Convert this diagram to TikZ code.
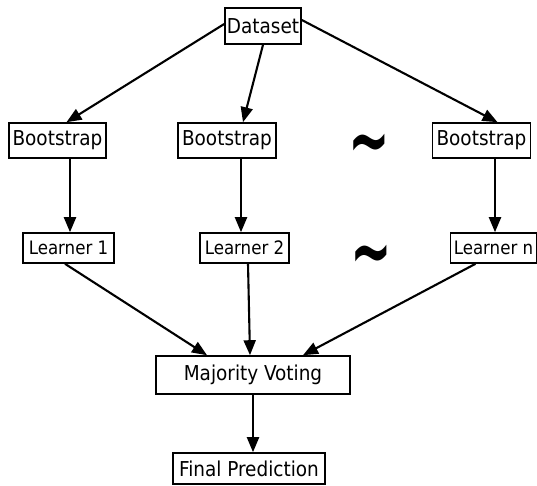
\documentclass[tikz,border=0pt]{standalone}
\usepackage{fontspec}
\usepackage{graphicx}
\setmainfont{DejaVu Sans Condensed}
\usetikzlibrary{arrows.meta}
\newcommand{\bigtil}{\scalebox{1.2}[1.8]{\textasciitilde}}
\begin{document}
\begin{tikzpicture}[x=1pt,y=-1pt,
  box/.style={draw=black,line width=1.6pt,inner sep=0pt,align=center,font=\fontsize{20.5}{22}\selectfont},
  lbox/.style={box,font=\fontsize{18.5}{20}\selectfont},
  arr/.style={line width=2.1pt,-{Triangle[length=15pt,width=12pt]}},
  tild/.style={inner sep=0pt,font=\fontsize{46}{48}\selectfont\bfseries}]
\useasboundingbox (0,0) rectangle (537,485);
\node[box,minimum width=76pt,minimum height=36pt] (d) at (263,26) {Dataset};
\node[box,minimum width=97pt,minimum height=35pt] (b1) at (57.5,140.5) {Bootstrap};
\node[box,minimum width=98pt,minimum height=35pt] (b2) at (227,140.5) {Bootstrap};
\node[box,minimum width=98pt,minimum height=35pt] (b3) at (481.5,140.5) {Bootstrap};
\node[tild] (t1) at (369,151) {\bigtil};
\node[lbox,minimum width=91pt,minimum height=30pt] (l1) at (68.5,248) {Learner 1};
\node[lbox,minimum width=89pt,minimum height=30pt] (l2) at (244.5,248) {Learner 2};
\node[lbox,minimum width=86pt,minimum height=30pt] (ln) at (493.5,248) {Learner n};
\node[tild] (t2) at (371,262) {\bigtil};
\node[box,minimum width=194pt,minimum height=38pt] (m) at (253,375) {Majority Voting};
\node[box,minimum width=152pt,minimum height=31pt] (f) at (249,468.5) {Final Prediction};
\draw[arr] ([yshift=2pt]d.west) -- ([xshift=9pt]b1.north);
\draw[arr] (d.south) -- ([xshift=16pt]b2.north);
\draw[arr] ([yshift=6pt]d.east) -- ([xshift=16pt]b3.north);
\draw[arr] ([xshift=12.5pt]b1.south) -- ([xshift=12.5pt]b1.south |- l1.north);
\draw[arr] ([xshift=14pt]b2.south) -- ([xshift=14pt]b2.south |- l2.north);
\draw[arr] ([xshift=13.5pt]b3.south) -- ([xshift=13.5pt]b3.south |- ln.north);
\draw[arr] ([xshift=-3.5pt]l1.south) -- ([xshift=-46pt]m.north);
\draw[arr] ([xshift=3.5pt]l2.south) -- ([xshift=-3pt]m.north);
\draw[arr] ([xshift=-18pt]ln.south) -- ([xshift=50pt]m.north);
\draw[arr] (m.south) -- (m.south |- f.north);
\end{tikzpicture}
\end{document}
